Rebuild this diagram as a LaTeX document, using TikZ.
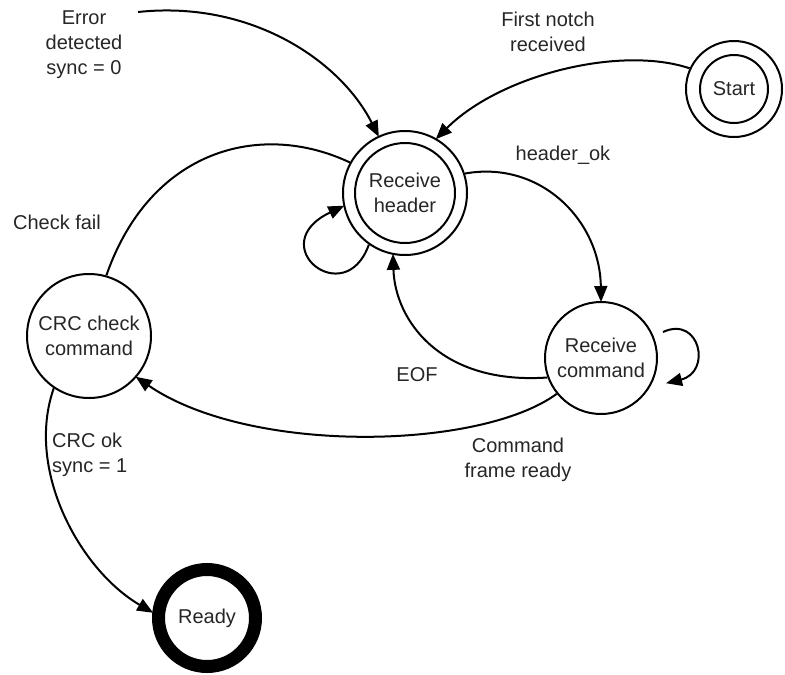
\documentclass[tikz,border=0pt]{standalone}
\usepackage{fontspec}
\setmainfont{Liberation Sans}
\usetikzlibrary{arrows.meta}
\begin{document}
\begin{tikzpicture}[x=1pt,y=-1pt,
  every node/.style={font=\fontsize{20}{25}\selectfont, text=black!85},
  state/.style={circle, draw, line width=2pt, inner sep=0pt, align=center},
  lbl/.style={align=center, inner sep=0pt},
  edge/.style={line width=2pt},
  arr/.style={edge, -{Triangle[length=16pt,width=13pt]}, shorten >=-1pt}
]
\useasboundingbox (0,0) rectangle (785,675);

% states
\node[state, minimum size=124pt] (rh) at (405,193) {Receive\\header};
\draw[line width=2pt] (rh.center) circle (50);
\node[state, minimum size=96pt] (st) at (734,89) {Start};
\draw[line width=2pt] (st.center) circle (34);
\node[state, minimum size=112pt] (rc) at (601,358) {Receive\\command};
\node[state, minimum size=124pt] (crc) at (89,336) {CRC check\\command};
\node[state, line width=13pt, minimum size=97pt] (rd) at (207,618) {Ready};

% free ends of the self-loop and the error transition
\coordinate (err) at (138,12);
\path (rc.center) ++(62,-26) coordinate (rcl1);
\path (rc.center) ++(66,25) coordinate (rcl2);

% transitions
\draw[arr] (err) .. controls (250,0) and (340,60) .. (rh.115);
\draw[arr] (st.155) .. controls (620,45) and (500,75) .. (rh.60);
\draw[arr] (rh.18) .. controls (540,160) and (600,220) .. (rc.90);
\draw[arr] (rh.235) .. controls (345,312) and (262,245) .. (rh.192);
\draw[arr] (rc.200) .. controls (440,385) and (395,320) .. (rh.259);
\draw[arr] (rcl1) .. controls (700,315) and (712,372) .. (rcl2);
\draw[arr] (rc.219) .. controls (480,450) and (250,455) .. (crc.319);
\draw[edge] (crc.74) .. controls (150,150) and (260,120) .. (rh.151);
\draw[arr] (crc.236) .. controls (25,470) and (80,570) .. (rd.174);

% transition labels
\node[lbl] (l1) at (84,45) {Error\\detected\\sync = 0};
\node[lbl] (l2) at (548,32) {First notch\\received};
\node[lbl] (l3) at (563,155) {header\_ok};
\node[lbl] (l4) at (57,222) {Check fail};
\node[lbl] (l5) at (417,375) {EOF};
\node[lbl] (l6) at (518,460) {Command\\frame ready};
\node[lbl, align=left, anchor=west] (l7) at (52,455) {CRC ok\\sync = 1};
\end{tikzpicture}
\end{document}
